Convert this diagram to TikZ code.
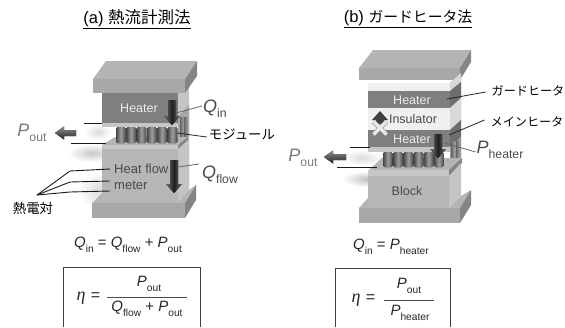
\documentclass[tikz,border=0pt]{standalone}
\usepackage{fontspec}
\setmainfont{Liberation Sans}
\newfontfamily\jp{Noto Sans CJK JP}
\newfontfamily\etaf{Liberation Serif}
\usetikzlibrary{calc}
\definecolor{plateT}{HTML}{B4B4B4}
\definecolor{plateF}{HTML}{A8A8A8}
\definecolor{plateS}{HTML}{858585}
\definecolor{bodyF}{HTML}{B6B6B6}
\definecolor{bodyS}{HTML}{C4C4C4}
\definecolor{heat}{HTML}{7F7F7F}
\definecolor{heatS}{HTML}{6E6E6E}
\definecolor{thinp}{HTML}{C6C6C6}
\definecolor{ins}{HTML}{F0F0F0}
\definecolor{labgrey}{HTML}{7A7A7A}
\definecolor{labdark}{HTML}{4A4A4A}
\newcommand\subt[1]{\raisebox{-0.3em}{\scalebox{0.68}{#1}}}
\newcommand\Qv[1]{\textit{Q}\subt{#1}}
\newcommand\Pv[1]{\textit{P}\subt{#1}}
\tikzset{
  leader/.style={draw=black!85,line width=0.8pt},
  tc/.style={draw=black!90,line width=0.9pt},
  title/.style={font=\fontsize{16.5}{18}\selectfont,inner sep=0pt},
  jlab/.style={font=\jp\fontsize{13.4}{15}\selectfont,inner sep=0pt},
  jlabs/.style={font=\jp\fontsize{12.1}{14}\selectfont,inner sep=0pt},
  inlab/.style={font=\fontsize{12.5}{14}\selectfont,inner sep=0pt},
  inlabb/.style={font=\fontsize{13}{15}\selectfont,inner sep=0pt},
  big/.style={font=\fontsize{18}{20}\selectfont,inner sep=0pt},
  eqn/.style={font=\fontsize{15}{17}\selectfont,inner sep=0pt,text=black!85},
  etalab/.style={font=\fontsize{16}{18}\selectfont,inner sep=0pt,text=black!85},
  frac/.style={draw=black!70,line width=0.9pt},
  framebox/.style={draw=black!75,line width=0.9pt}
}
\newcommand\downar[3]{\fill[left color=black!55,right color=black!55,middle color=black!88]
  (#1-4,#2)--(#1+4,#2)--(#1+4,#3-9)--(#1+8,#3-9)--(#1,#3)--(#1-8,#3-9)--(#1-4,#3-9)--cycle;}
\newcommand\leftar[3]{\fill[top color=black!45,bottom color=black!85,middle color=black!65]
  (#1,#3)--(#1+9,#3-6.5)--(#1+9,#3-3)--(#2,#3-3)--(#2,#3+3)--(#1+9,#3+3)--(#1+9,#3+6.5)--cycle;}
% module cylinders: start x, step, count, y-top, y-bottom
\newcommand\mods[5]{\foreach \i in {1,...,#3}{
  \pgfmathsetmacro\xx{#1+(\i-1)*#2}
  \fill[left color=black!72,right color=black!72,middle color=black!38,rounded corners=1.5pt]
    (\xx,#4)rectangle(\xx+#2*0.95,#5);
}}
\begin{document}
\begin{tikzpicture}[x=1pt,y=-1pt]
\useasboundingbox (0,0) rectangle (565,327);
%%% shadows
\shade[inner color=black!22,outer color=white] (92,153) ellipse (24 and 9);
\shade[inner color=black!14,outer color=white] (98,190) ellipse (20 and 18);
\shade[inner color=black!14,outer color=white] (98,132) ellipse (14 and 8);
\shade[inner color=black!25,outer color=white] (368,179) ellipse (26 and 8);
\shade[inner color=black!14,outer color=white] (362,158) ellipse (20 and 8);
%%% ---- (a)
\node[title] (ta) at (137,19) {\underline{(a) {\jp 熱流計測法}}};
% right side column
\fill[bodyS] (178,93)--(189,78)--(189,190)--(178,204)--cycle;
\fill[black!35] (178,117)--(189,105)--(189,137)--(178,137)--cycle;
% top plate
\fill[plateT] (106,61)--(197,61)--(185,79)--(93,79)--cycle;
\fill[plateF] (93,79) rectangle (185,93);
\fill[plateS] (185,79)--(197,61)--(197,76)--(185,93)--cycle;
% heater
\fill[heat] (102,93) rectangle (178,123);
\fill[thinp] (102,123) rectangle (178,127);
% back modules
\foreach \bx in {180,184}{\fill[left color=black!60,right color=black!35] (\bx,117) rectangle (\bx+4,137);}
% lower plate and modules
\fill[plateT] (115,137)--(188,137)--(177,145)--(102,145)--cycle;
\mods{116}{10.3}{6}{127}{143}
\fill[thinp] (102,145) rectangle (178,149);
\fill[plateS] (178,145)--(188,137)--(188,140)--(178,149)--cycle;
% lower body
\fill[bodyF] (102,149) rectangle (178,204);
\fill[bodyS] (178,149)--(189,140)--(189,190)--(178,204)--cycle;
% bottom plate
\fill[plateT] (102,193)--(102,203)--(92,203)--cycle;
\fill[plateT] (178,203)--(189,190)--(196,185)--(185,203)--cycle;
\fill[plateF] (92,203) rectangle (185,218);
\fill[plateS] (185,203)--(196,185)--(196,200)--(185,218)--cycle;
% arrows
\downar{172}{100}{125}
\downar{174}{160}{193}
\leftar{55}{76}{133}
% in-diagram labels
\node[inlab,text=white!92!black] (ha) at (139,108) {Heater};
\node[inlabb,text=labdark,anchor=west] (hf) at (114,169) {Heat flow};
\node[inlabb,text=labdark,anchor=west] (mt) at (114,185) {meter};
% thermocouple wires
\coordinate (pa1) at (84,123); \coordinate (pa2) at (102,123);
\coordinate (pb1) at (71,143); \coordinate (pb2) at (106,143);
\draw[tc] (pa1)--(pa2); \draw[tc] (pb1)--(pb2);
% labels
\node[big,text=labgrey] (pouta) at (32,133) {\Pv{out}};
\node[big,text=labdark] (qin) at (215,109) {\Qv{in}};
\node[big,text=labdark] (qflow) at (220,175) {\Qv{flow}};
\node[jlab] (moj) at (242,134) {モジュール};
\node[jlab] (nd) at (33,208) {熱電対};
\coordinate (qinp) at (176,113);
\coordinate (modp) at (177,133);
\coordinate (qflp) at (178,167);
\draw[leader,draw=black!60] (qin.west)++(-1,-3) -- (qinp);
\draw[leader] (moj.west)++(-2,3) -- (modp);
\draw[leader,draw=black!60] (qflow.west)++(-3,-11) -- (qflp);
\coordinate (fork) at (37,195);
\coordinate (e1) at (110,169); \coordinate (k1) at (70,171);
\coordinate (e2) at (110,181); \coordinate (k2) at (70,182);
\coordinate (e3) at (110,191); \coordinate (k3) at (70,192);
\draw[tc] (e1)--(k1)--(fork);
\draw[tc] (e2)--(k2)--(fork);
\draw[tc] (e3)--(k3)--(fork);
% equations
\node[eqn] (eqa) at (128,245) {\Qv{in} = \Qv{flow} + \Pv{out}};
\node[etalab] (etaa) at (88.5,298) {{\etaf\itshape\fontsize{18}{18}\selectfont η}\,\,=};
\coordinate (fa1) at (107,297); \coordinate (fa2) at (187,297);
\draw[frac] (fa1)--(fa2);
\node[eqn] (numa) at (149,284) {\Pv{out}};
\node[eqn] (dena) at (147,309) {\Qv{flow} + \Pv{out}};
\coordinate (ba1) at (63.5,327); \coordinate (ba2) at (63.5,267.5);
\coordinate (ba3) at (200,267.5); \coordinate (ba4) at (200,327);
\draw[framebox] (ba1)--(ba2)--(ba3)--(ba4);
%%% ---- (b)
\node[title] (tb) at (408,19) {\underline{(b) {\jp\fontsize{14.8}{18}\selectfont ガードヒータ法}}};
% right column
\fill[bodyS] (450,83)--(461,73)--(461,170)--(450,180)--cycle;
% top plate
\fill[plateT] (373,50)--(471,50)--(460,68)--(359,68)--cycle;
\fill[plateF] (359,68) rectangle (460,80);
\fill[plateS] (460,68)--(471,50)--(471,62)--(460,80)--cycle;
% layers
\fill[ins] (368,83) rectangle (450,91);
\fill[ins!90!black] (450,83)--(461,73)--(461,82)--(450,91)--cycle;
\fill[heat] (368,91) rectangle (450,108);
\fill[heatS] (450,91)--(461,82)--(461,98)--(450,108)--cycle;
\fill[ins] (368,108) rectangle (450,130);
\fill[ins!90!black] (450,108)--(461,98)--(461,120)--(450,130)--cycle;
\fill[heat] (368,130) rectangle (450,147);
\fill[heatS] (450,130)--(461,120)--(461,137)--(450,147)--cycle;
\fill[thinp] (368,147) rectangle (450,152);
\fill[black!40] (450,147)--(461,137)--(461,158)--(450,158)--cycle;
% back modules
\foreach \bx in {451,456}{\fill[left color=black!60,right color=black!35] (\bx,141) rectangle (\bx+4,158);}
% modules
\fill[plateT] (382,158)--(462,158)--(449,170)--(369,170)--cycle;
\mods{383}{10.2}{6}{152}{167}
% lower plate
\fill[thinp] (368,170) rectangle (449,176);
\fill[plateS] (449,170)--(462,158)--(462,163)--(449,176)--cycle;
% block
\fill[bodyF] (368,176) rectangle (449,208);
\fill[bodyS] (449,176)--(461,163)--(461,196)--(449,208)--cycle;
% bottom plate
\fill[plateT] (368,198)--(368,208)--(359,208)--cycle;
\fill[plateT] (449,208)--(461,196)--(471,190)--(460,208)--cycle;
\fill[plateF] (359,208) rectangle (460,223);
\fill[plateS] (460,208)--(471,190)--(471,205)--(460,223)--cycle;
% arrows
\downar{438}{134}{158}
\leftar{324}{346}{157}
\fill[black!75] (380,111)--(388,120)--(384,120)--(384,124)--(376,124)--(376,120)--(372,120)--cycle;
\draw[line width=4.5pt,draw=black!40] (373.5,121.5)--(386.5,134.5) (386.5,121.5)--(373.5,134.5);
\draw[line width=3pt,draw=black!8] (373.5,121.5)--(386.5,134.5) (386.5,121.5)--(373.5,134.5);
% labels
\node[inlab,text=white!92!black] (hb1) at (412,100) {Heater};
\node[inlab,text=labdark] (ib) at (413,119) {Insulator};
\node[inlab,text=white!92!black] (hb2) at (412,139) {Heater};
\node[inlab,text=labdark] (bl) at (407,191) {Block};
\coordinate (pc1) at (350,147); \coordinate (pc2) at (370,147);
\coordinate (pd1) at (337,167); \coordinate (pd2) at (377,167);
\draw[tc] (pc1)--(pc2); \draw[tc] (pd1)--(pd2);
\node[big,text=labgrey] (poutb) at (303,158) {\Pv{out}};
\node[big,text=labdark] (phe) at (500,150) {\Pv{heater}};
\node[jlabs] (gh) at (528,91) {ガードヒータ};
\node[jlabs] (mh) at (527,122) {メインヒータ};
\coordinate (gp) at (447,99);
\coordinate (mp) at (449,135);
\coordinate (hp) at (445,143);
\draw[leader] (gh.west)++(-6,1) -- (gp);
\draw[leader] (mh.west)++(-6,-2) -- (mp);
\draw[leader,draw=black!60] (phe.west)++(-1,2) -- (hp);
% equations
\node[eqn] (eqb) at (391,247) {\Qv{in} = \Pv{heater}};
\node[etalab] (etab) at (363.5,300) {{\etaf\itshape\fontsize{18}{18}\selectfont η}\,\,=};
\coordinate (fb1) at (384,300); \coordinate (fb2) at (434,300);
\draw[frac] (fb1)--(fb2);
\node[eqn] (numb) at (409,286) {\Pv{out}};
\node[eqn] (denb) at (410,313) {\Pv{heater}};
\coordinate (bb1) at (335,327); \coordinate (bb2) at (335,268);
\coordinate (bb3) at (450,268); \coordinate (bb4) at (450,327);
\draw[framebox] (bb1)--(bb2)--(bb3)--(bb4);
\end{tikzpicture}
\end{document}
